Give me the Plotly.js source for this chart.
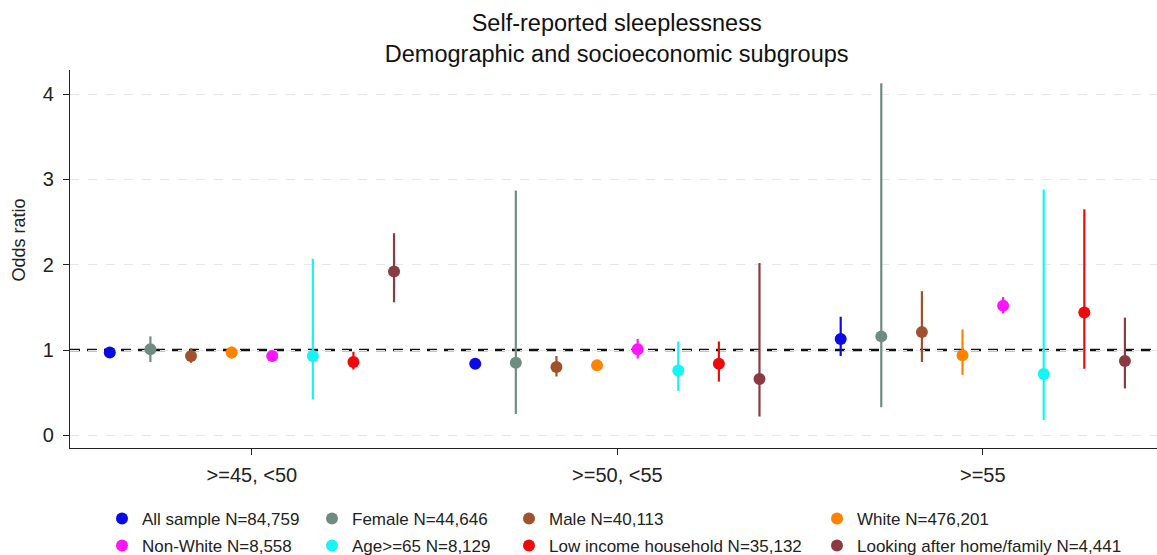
<!DOCTYPE html>
<html>
<head>
<meta charset="utf-8">
<script src="https://cdn.plot.ly/plotly-3.0.1.min.js"></script>
<style>html,body{margin:0;padding:0;background:#fff;}#chart{width:1157px;height:555px;}</style>
</head>
<body>
<div id="chart"></div>
<script>
// Data
const groups = [">=45, <50", ">=50, <55", ">=55"];
const seriesNames = [
  "All sample N=84,759", "Female N=44,646", "Male N=40,113", "White N=476,201",
  "Non-White N=8,558", "Age>=65 N=8,129", "Low income household N=35,132", "Looking after home/family N=4,441"
];
const seriesColors = ["#0a0ae6", "#6f8c80", "#a0522d", "#ff8200", "#ff14ff", "#14f5f5", "#ee0a0a", "#8b3a42"];
// Odds ratio per group for each series
const allSample   = [0.97, 0.84, 1.13];
const female      = [1.01, 0.85, 1.16];
const male        = [0.93, 0.80, 1.21];
const white       = [0.97, 0.82, 0.94];
const nonWhite    = [0.93, 1.01, 1.52];
const age65       = [0.93, 0.76, 0.72];
const lowIncome   = [0.86, 0.84, 1.44];
const lookingHome = [1.92, 0.66, 0.87];
// Lower CI
const allSampleLo   = [0.94, 0.82, 0.93];
const femaleLo      = [0.86, 0.25, 0.33];
const maleLo        = [0.85, 0.69, 0.86];
const whiteLo       = [0.90, 0.80, 0.71];
const nonWhiteLo    = [0.91, 0.90, 1.43];
const age65Lo       = [0.42, 0.52, 0.18];
const lowIncomeLo   = [0.77, 0.63, 0.78];
const lookingHomeLo = [1.56, 0.22, 0.55];
// Upper CI
const allSampleHi   = [1.00, 0.86, 1.39];
const femaleHi      = [1.16, 2.87, 4.13];
const maleHi        = [1.02, 0.93, 1.69];
const whiteHi       = [1.04, 0.84, 1.24];
const nonWhiteHi    = [0.96, 1.13, 1.62];
const age65Hi       = [2.07, 1.10, 2.88];
const lowIncomeHi   = [0.98, 1.10, 2.65];
const lookingHomeHi = [2.37, 2.02, 1.38];
const yTicks = [0, 1, 2, 3, 4];
const refLine = 1;

const est = [allSample, female, male, white, nonWhite, age65, lowIncome, lookingHome];
const lo  = [allSampleLo, femaleLo, maleLo, whiteLo, nonWhiteLo, age65Lo, lowIncomeLo, lookingHomeLo];
const hi  = [allSampleHi, femaleHi, maleHi, whiteHi, nonWhiteHi, age65Hi, lowIncomeHi, lookingHomeHi];

const groupStep = 9;
const nS = seriesNames.length;
const FONT = "Liberation Sans, Arial, sans-serif";

// legend placement (container coords, px)
const legCols = [102, 312, 509, 817];
const legRows = [519, 546];

const traces = [];
const legends = {};
seriesNames.forEach((name, k) => {
  const xs = groups.map((g, i) => i * groupStep + (k - (nS - 1) / 2));
  const lname = k === 0 ? "legend" : "legend" + (k + 1);
  traces.push({
    type: "scatter", mode: "markers", name: name,
    x: xs, y: est[k],
    legend: lname,
    marker: {color: seriesColors[k], size: 12},
    error_y: {
      type: "data", symmetric: false,
      array: est[k].map((v, i) => hi[k][i] - v),
      arrayminus: est[k].map((v, i) => v - lo[k][i]),
      color: seriesColors[k], thickness: 2.2, width: 0
    },
    hoverinfo: "name+y"
  });
  const col = k % 4, row = Math.floor(k / 4);
  legends[lname] = {
    x: legCols[col] / 1157, xref: "container", xanchor: "left",
    y: 1 - legRows[row] / 555, yref: "container", yanchor: "middle",
    font: {family: FONT, size: 17, color: "#222"},
    bgcolor: "rgba(0,0,0,0)", itemwidth: 30
  };
});

const layout = Object.assign({
  width: 1157, height: 555,
  paper_bgcolor: "#fff", plot_bgcolor: "#fff",
  margin: {l: 70, r: 0, t: 70, b: 107, autoexpand: false},
  font: {family: FONT, color: "#222"},
  showlegend: true,
  title: {
    text: "Self-reported sleeplessness<br>Demographic and socioeconomic subgroups",
    font: {family: FONT, size: 23.5, color: "#111"},
    x: 0.533, xanchor: "center", xref: "container",
    y: 0.944, yanchor: "top", yref: "container"
  },
  xaxis: {
    range: [-4.48, 22.29],
    tickvals: groups.map((g, i) => i * groupStep),
    ticktext: groups,
    ticks: "outside", ticklen: 6, tickcolor: "#222", tickwidth: 1,
    ticklabelstandoff: 3,
    showgrid: false, zeroline: false,
    showline: true, linecolor: "#222", linewidth: 1.2,
    tickfont: {family: FONT, size: 20, color: "#222"}
  },
  yaxis: {
    range: [-0.149, 4.284],
    tickvals: yTicks,
    ticks: "outside", ticklen: 6, tickcolor: "#222", tickwidth: 1,
    ticklabelstandoff: 5,
    showgrid: true, gridcolor: "#e6e6e6", griddash: "dash", gridwidth: 1,
    zeroline: false,
    showline: true, linecolor: "#222", linewidth: 1.2,
    tickfont: {family: FONT, size: 20, color: "#222"}
  },
  annotations: [{
    text: "Odds ratio", textangle: -90,
    xref: "paper", x: -0.0465, xanchor: "center",
    yref: "paper", y: 0.55, yanchor: "middle",
    showarrow: false,
    font: {family: FONT, size: 18, color: "#222"}
  }],
  shapes: [
    {type: "line", xref: "paper", x0: 0, x1: 1, yref: "y", y0: refLine, y1: refLine,
     line: {color: "#ffffff", width: 3}, layer: "between"},
    {type: "line", xref: "paper", x0: 0, x1: 1, yref: "y", y0: refLine, y1: refLine,
     line: {color: "#111", width: 2.6, dash: "10px,7px"}, layer: "between"}
  ]
}, legends);

Plotly.newPlot("chart", traces, layout, {displayModeBar: false, staticPlot: true});
</script>
</body>
</html>
